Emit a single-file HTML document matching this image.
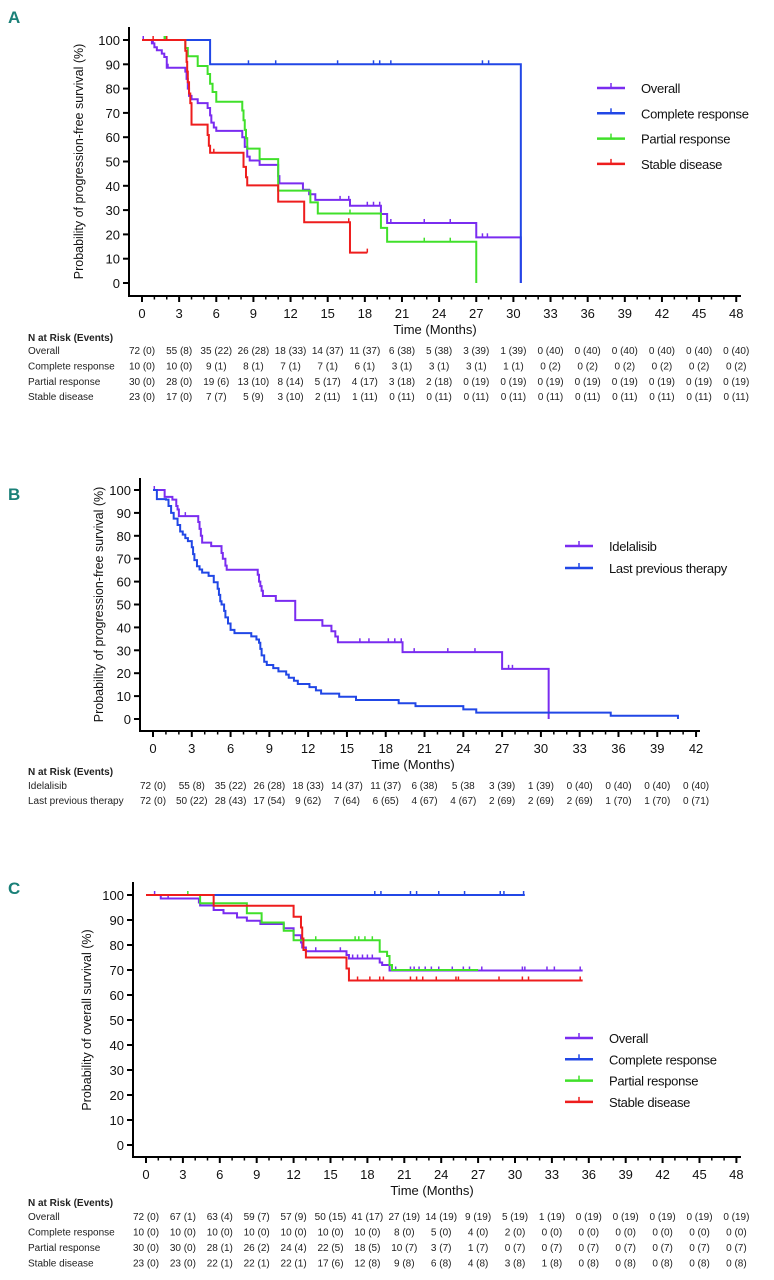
<!DOCTYPE html>
<html><head><meta charset="utf-8"><style>
html,body{margin:0;padding:0;background:#fff;}
svg{display:block;font-family:"Liberation Sans",sans-serif;}
.tk{font-size:13px;fill:#111;}
.tbl{font-family:"Liberation Sans Narrow","Liberation Sans",sans-serif;font-size:10px;fill:#222;}
</style></head><body>
<svg id="fig" width="774" height="1280" viewBox="0 0 774 1280" xmlns="http://www.w3.org/2000/svg"></svg>
<script>
// ---- Panel A data (PFS by response) ----
const aOverall=[[0,100],[0.8,98.6],[1.0,97],[1.2,95.8],[1.6,94.4],[1.8,93],[2.0,88.6],[3.5,87],[3.6,84],[3.7,80],[3.8,77],[4.0,75.6],[4.5,74],[5.3,72],[5.5,69],[5.6,66],[5.8,64],[6.0,62.6],[8.1,60],[8.3,56],[8.5,52],[8.7,50.4],[9.5,48.6],[11.0,44],[11.1,41],[13.0,38.4],[13.5,36.5],[14.0,34.2],[16.8,31.8],[19.3,28.4],[19.8,24.7],[27.0,18.8],[30.6,18.8],[30.6,0]];
const aOverallCens=[0.1,0.9,2.1,11,16,16.7,18.2,18.7,19.2,20.1,22.8,24.9,27.5,27.9];
const aComplete=[[0,100],[5.5,100],[5.5,90],[30.6,90],[30.6,0]];
const aCompleteCens=[8.6,10.8,15.8,18.7,19.2,20.1,27.5,28.0];
const aPartial=[[0,100],[3.5,96.7],[3.7,93.3],[4.5,89.3],[5.3,86],[5.5,82],[5.7,78.6],[6.0,74.6],[8.1,71],[8.2,67],[8.3,63],[8.4,59.6],[8.5,55.3],[9.5,51],[11.0,38],[13.6,33.2],[14.2,28.6],[19.3,22.7],[19.8,17],[27.0,17],[27.0,0]];
const aPartialCens=[1.8,1.9,16.8,22.8,24.9];
const aStable=[[0,100],[3.5,95.6],[3.6,91],[3.65,87],[3.7,82.6],[3.8,78],[3.9,74],[4.0,65.2],[5.3,60.9],[5.4,56.5],[5.5,53.6],[8.2,47.8],[8.4,43.5],[8.5,40.2],[11.0,33.5],[13.1,25],[16.8,12.5],[18.2,12.5]];
const aStableCens=[0.9,2.0,5.8,16.7,18.2];
const aTicks=[0,3,6,9,12,15,18,21,24,27,30,33,36,39,42,45,48];
const aRows=["Overall","Complete response","Partial response","Stable disease"];
const aRisk=[
["72 (0)","55 (8)","35 (22)","26 (28)","18 (33)","14 (37)","11 (37)","6 (38)","5 (38)","3 (39)","1 (39)","0 (40)","0 (40)","0 (40)","0 (40)","0 (40)","0 (40)"],
["10 (0)","10 (0)","9 (1)","8 (1)","7 (1)","7 (1)","6 (1)","3 (1)","3 (1)","3 (1)","1 (1)","0 (2)","0 (2)","0 (2)","0 (2)","0 (2)","0 (2)"],
["30 (0)","28 (0)","19 (6)","13 (10)","8 (14)","5 (17)","4 (17)","3 (18)","2 (18)","0 (19)","0 (19)","0 (19)","0 (19)","0 (19)","0 (19)","0 (19)","0 (19)"],
["23 (0)","17 (0)","7 (7)","5 (9)","3 (10)","2 (11)","1 (11)","0 (11)","0 (11)","0 (11)","0 (11)","0 (11)","0 (11)","0 (11)","0 (11)","0 (11)","0 (11)"]];
// ---- Panel B data ----
const bIdel=[[0,100],[0.9,97],[1.5,95.8],[1.8,93],[1.9,91.5],[2.0,88.6],[3.5,86],[3.6,83],[3.7,80],[3.8,77],[4.5,75.5],[5.3,72.5],[5.4,70],[5.6,67],[5.7,65.2],[8.1,63],[8.2,60],[8.3,58],[8.4,56],[8.5,53.7],[9.5,51.6],[11.0,43.2],[13.1,40.7],[13.8,38.3],[14.1,36],[14.3,33.5],[19.3,29.2],[27.0,21.9],[30.6,21.9],[30.6,0]];
const bIdelCens=[0.1,2.5,16,16.7,18.2,18.7,19.2,20.2,22.8,24.9,27.5,27.8];
const bLast=[[0,100],[0.3,96],[1.0,95.8],[1.2,93],[1.4,90],[1.6,87.5],[1.9,84.7],[2.1,81.9],[2.3,80.5],[2.5,79],[2.7,77.7],[3.0,75],[3.1,72],[3.2,69.4],[3.4,66.7],[3.6,65.3],[3.8,63.9],[4.3,62.5],[4.7,59.7],[5.0,56.9],[5.1,54.2],[5.2,51.4],[5.3,50],[5.5,47.2],[5.6,44.4],[5.8,41.7],[6.0,38.9],[6.3,37.5],[7.6,36.1],[8.0,34.7],[8.2,33.3],[8.3,30.6],[8.4,27.8],[8.6,25],[8.8,23.6],[9.3,22.2],[9.7,20.8],[10.3,19.4],[10.5,18],[10.9,16.7],[11.2,15.3],[12.1,13.9],[12.6,12.5],[13.0,11.1],[14.4,9.7],[15.7,8.3],[19.0,6.9],[20.3,5.6],[24.0,4.2],[25.0,2.8],[35.4,1.4],[40.6,1.4],[40.6,0]];
const bLastCens=[];
const bTicks=[0,3,6,9,12,15,18,21,24,27,30,33,36,39,42];
const bRows=["Idelalisib","Last previous therapy"];
const bRisk=[
["72 (0)","55 (8)","35 (22)","26 (28)","18 (33)","14 (37)","11 (37)","6 (38)","5 (38","3 (39)","1 (39)","0 (40)","0 (40)","0 (40)","0 (40)"],
["72 (0)","50 (22)","28 (43)","17 (54)","9 (62)","7 (64)","6 (65)","4 (67)","4 (67)","2 (69)","2 (69)","2 (69)","1 (70)","1 (70)","0 (71)"]];
// ---- Panel C data (OS) ----
const cOverall=[[0,100],[1.2,98.6],[4.3,97],[4.4,95.8],[5.5,94],[6.3,92.7],[7.4,91],[8.2,89.7],[9.3,88.4],[11.2,86.7],[12.0,83.9],[12.6,81],[12.7,79],[13.0,77.5],[16.3,76],[16.5,74.6],[19.0,73],[19.2,72],[19.8,69.8],[35.5,69.8]];
const cOverallCens=[0.7,1.8,13.8,15.8,16.8,17.2,17.6,18.0,18.4,20.3,21.5,21.8,22.2,22.7,23.2,23.8,24.9,25.8,26.3,27.3,30.6,30.8,32.6,33.2,35.3];
const cComplete=[[0,100],[30.8,100]];
const cCompleteCens=[18.6,19.1,21.5,22.0,23.8,25.9,28.8,29.1,30.7];
const cPartial=[[0,100],[4.4,96.7],[8.2,92.7],[9.4,89],[11.2,85.7],[12.0,81.9],[19.0,77.3],[19.6,75.6],[19.8,72],[20.0,70],[27.0,70]];
const cPartialCens=[3.4,13.8,17.0,17.3,17.8,18.4];
const cStable=[[0,100],[5.5,95.7],[12.0,91.3],[12.6,87],[12.7,82.6],[12.8,78],[13.0,75],[16.3,70.6],[16.5,65.8],[35.5,65.8]];
const cStableCens=[17.2,18.2,19.0,19.3,21.5,22.0,22.5,23.6,25.2,25.4,28.7,30.6,31.1,35.3];
const cTicks=[0,3,6,9,12,15,18,21,24,27,30,33,36,39,42,45,48];
const cRows=["Overall","Complete response","Partial response","Stable disease"];
const cRisk=[
["72 (0)","67 (1)","63 (4)","59 (7)","57 (9)","50 (15)","41 (17)","27 (19)","14 (19)","9 (19)","5 (19)","1 (19)","0 (19)","0 (19)","0 (19)","0 (19)","0 (19)"],
["10 (0)","10 (0)","10 (0)","10 (0)","10 (0)","10 (0)","10 (0)","8 (0)","5 (0)","4 (0)","2 (0)","0 (0)","0 (0)","0 (0)","0 (0)","0 (0)","0 (0)"],
["30 (0)","30 (0)","28 (1)","26 (2)","24 (4)","22 (5)","18 (5)","10 (7)","3 (7)","1 (7)","0 (7)","0 (7)","0 (7)","0 (7)","0 (7)","0 (7)","0 (7)"],
["23 (0)","23 (0)","22 (1)","22 (1)","22 (1)","17 (6)","12 (8)","9 (8)","6 (8)","4 (8)","3 (8)","1 (8)","0 (8)","0 (8)","0 (8)","0 (8)","0 (8)"]];
const yTicks=[0,10,20,30,40,50,60,70,80,90,100];

const NS="http://www.w3.org/2000/svg";
const svg=document.getElementById('fig');
function mk(tag,attrs,parent){const e=document.createElementNS(NS,tag);for(const k in attrs)e.setAttribute(k,attrs[k]);(parent||svg).appendChild(e);return e;}
function txt(s,attrs,parent){const e=mk('text',attrs,parent);e.textContent=s;return e;}

const PURPLE="#7a2cf0",BLUE="#2147e6",GREEN="#40e02a",RED="#ee1d1d";

function panel(cfg){
  const g=mk('g',{});
  
  
  const xS=m=>cfg.x0+m*cfg.pxm;
  const yS=v=>cfg.y0+(100-v)/100*(cfg.yz-cfg.y0);
  const L=txt(cfg.letter,{x:8,y:cfg.ly,'font-size':17,'font-weight':'bold',fill:'#1a8078'},g);
  
  
  const ax=mk('g',{stroke:'#000','stroke-width':2,fill:'none'},g);
  
  
  mk('line',{x1:cfg.ax,y1:cfg.atop,x2:cfg.ax,y2:cfg.ay+1},ax);
  mk('line',{x1:cfg.ax-1,y1:cfg.ay,x2:cfg.axEnd,y2:cfg.ay},ax);
  yTicks.forEach(v=>{
    mk('line',{x1:cfg.ax-6,y1:yS(v),x2:cfg.ax,y2:yS(v)},ax);
    const t=txt(String(v),{x:cfg.ax-9,y:yS(v)+5,'text-anchor':'end',class:'tk'},g);
    
    
  });
  const maxM=cfg.ticks[cfg.ticks.length-1];
  for(let m=0;m<=maxM;m++){
    const major=m%3===0;
    mk('line',{x1:xS(m),y1:cfg.ay,x2:xS(m),y2:cfg.ay+(major?6:3.5),'stroke-width':major?2:1.5},ax);
  }
  cfg.ticks.forEach(m=>{
    const t=txt(String(m),{x:xS(m),y:cfg.ay+22,'text-anchor':'middle',class:'tk'},g);
    
    
  });
  const xt=txt('Time (Months)',{x:cfg.xtx,y:cfg.ay+38,'text-anchor':'middle','font-size':13,fill:'#111'},g);
  
  
  const yc=(cfg.y0+cfg.yz)/2;
  const yt=txt(cfg.ytitle,{x:cfg.ytx,y:yc,'text-anchor':'middle','font-size':12.5,fill:'#111',transform:`rotate(-90 ${cfg.ytx} ${yc})`},g);
  
  
  cfg.series.forEach(s=>{
    let d='';
    s.pts.forEach((p,i)=>{
      if(i===0)d+=`M${xS(p[0])},${yS(p[1])}`;
      else{d+=`H${xS(p[0])}V${yS(p[1])}`;}
    });
    const path=mk('path',{d:d,stroke:s.color,'stroke-width':2,fill:'none'},g);
    
    
    s.cens.forEach(c=>{
      let v=s.pts[0][1];
      for(const p of s.pts){if(p[0]<=c)v=p[1];}
      const t=mk('line',{x1:xS(c),y1:yS(v),x2:xS(c),y2:yS(v)-4,stroke:s.color,'stroke-width':1.5},g);
      
      
    });
  });
  cfg.series.forEach((s,i)=>{
    const y=cfg.legY+i*cfg.legDy;
    const lg=mk('g',{},g);
    
    
    mk('line',{x1:cfg.legX,y1:y,x2:cfg.legX+28,y2:y,stroke:s.color,'stroke-width':2.5},lg);
    mk('line',{x1:cfg.legX+14,y1:y,x2:cfg.legX+14,y2:y-5,stroke:s.color,'stroke-width':1.5},lg);
    txt(s.label,{x:cfg.legX+44,y:y+5,'font-size':13,'letter-spacing':'-0.3',fill:'#111'},lg);
  });
  const tb=mk('g',{},g);
  
  
  txt('N at Risk (Events)',{x:28,y:cfg.tY,class:'tbl','font-weight':'bold'},tb);
  cfg.rows.forEach((r,i)=>{
    const y=cfg.tY+cfg.tFirst+i*cfg.tDy;
    txt(r,{x:28,y:y,class:'tbl'},tb);
    cfg.risk[i].forEach((v,j)=>{
      txt(v,{x:xS(cfg.ticks[j])+cfg.tOff,y:y,'text-anchor':'middle',class:'tbl'},tb);
    });
  });
}

panel({name:'panel-a-pfs-by-response',letter:'A',ly:23,x0:142,pxm:12.38,y0:40,yz:283,ax:129,atop:27,ay:296,axEnd:741,
  ticks:aTicks,xtx:435,ytx:83,ytitle:'Probability of progression-free survival (%)',
  series:[{id:'overall',label:'Overall',color:PURPLE,pts:aOverall,cens:aOverallCens},
          {id:'complete-response',label:'Complete response',color:BLUE,pts:aComplete,cens:aCompleteCens},
          {id:'partial-response',label:'Partial response',color:GREEN,pts:aPartial,cens:aPartialCens},
          {id:'stable-disease',label:'Stable disease',color:RED,pts:aStable,cens:aStableCens}],
  legX:597,legY:88,legDy:25.3,rows:aRows,risk:aRisk,tY:341,tFirst:13,tDy:15.4,tOff:0});

panel({name:'panel-b-pfs-vs-last-therapy',letter:'B',ly:500,x0:153,pxm:12.93,y0:490,yz:719,ax:140,atop:478,ay:731,axEnd:700,
  ticks:bTicks,xtx:413,ytx:103,ytitle:'Probability of progression-free survival (%)',
  series:[{id:'idelalisib',label:'Idelalisib',color:PURPLE,pts:bIdel,cens:bIdelCens},
          {id:'last-previous-therapy',label:'Last previous therapy',color:BLUE,pts:bLast,cens:bLastCens}],
  legX:565,legY:546,legDy:22,rows:bRows,risk:bRisk,tY:775,tFirst:14,tDy:15,tOff:0});

panel({name:'panel-c-os-by-response',letter:'C',ly:894,x0:146,pxm:12.3,y0:895,yz:1145,ax:133,atop:882,ay:1157,axEnd:741,
  ticks:cTicks,xtx:432,ytx:91,ytitle:'Probability of overall survival (%)',
  series:[{id:'overall',label:'Overall',color:PURPLE,pts:cOverall,cens:cOverallCens},
          {id:'complete-response',label:'Complete response',color:BLUE,pts:cComplete,cens:cCompleteCens},
          {id:'partial-response',label:'Partial response',color:GREEN,pts:cPartial,cens:cPartialCens},
          {id:'stable-disease',label:'Stable disease',color:RED,pts:cStable,cens:cStableCens}],
  legX:565,legY:1038,legDy:21.3,rows:cRows,risk:cRisk,tY:1206,tFirst:14,tDy:15.5,tOff:0});
</script>
</body></html>
